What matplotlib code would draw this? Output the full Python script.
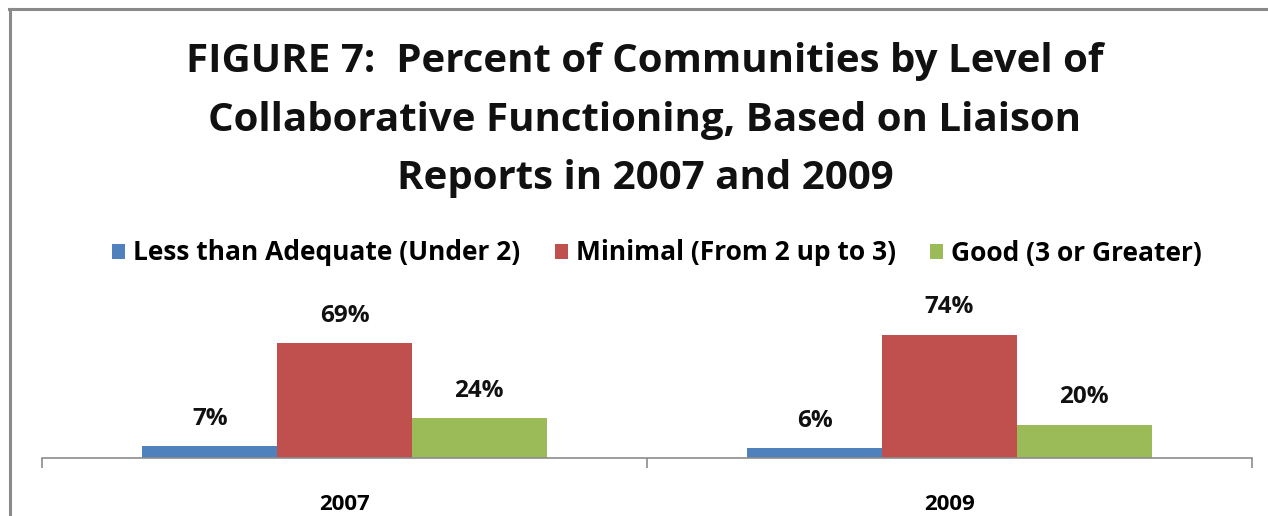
import matplotlib
matplotlib.use("Agg")
import matplotlib.pyplot as plt
from matplotlib.patches import Patch
from matplotlib.lines import Line2D
import numpy as np

years = ["2007", "2009"]
series_names = ["Less than Adequate (Under 2)", "Minimal (From 2 up to 3)", "Good (3 or Greater)"]
less_than_adequate = [7, 6]
minimal = [69, 74]
good = [24, 20]
colors = ["#4F81BD", "#C0504D", "#9BBB59"]

W, H = 1268, 516
fig = plt.figure(figsize=(W / 100, H / 100), dpi=100)
plt.rcParams['font.family'] = ['Open Sans', 'DejaVu Sans']

# outer frame (chart border)
fig.add_artist(Line2D([10 / W, 10 / W], [0, 1 - 9 / H], transform=fig.transFigure, color="#8a8a8a", lw=2.2))
fig.add_artist(Line2D([9 / W, 1], [1 - 9 / H, 1 - 9 / H], transform=fig.transFigure, color="#8a8a8a", lw=2.2))

ax = fig.add_axes([42 / W, 58 / H, 1210 / W, 133.3 / H])
ax.set_xlim(-0.5, 1.5)
ax.set_ylim(0, 80)

x = np.arange(len(years))
bw = 0.2227
for i, (vals, col) in enumerate(zip([less_than_adequate, minimal, good], colors)):
    bars = ax.bar(x + (i - 1) * bw, vals, width=bw, color=col, edgecolor='none', label=series_names[i])
    for b, v in zip(bars, vals):
        ax.annotate(f"{v}%", (b.get_x() + b.get_width() / 2, b.get_height()),
                    xytext=(0, 11), textcoords="offset points", ha="center", va="bottom",
                    fontsize=17.5, fontweight="bold", color="#111111")

for s in ["top", "right", "left"]:
    ax.spines[s].set_visible(False)
ax.spines["bottom"].set_color("#8c8c8c")
ax.spines["bottom"].set_linewidth(1.2)
ax.set_yticks([])
ax.set_xticks([-0.5, 0.5, 1.5])
ax.set_xticklabels([])
ax.tick_params(axis="x", which="major", length=7.5, color="#8c8c8c", width=1.2, direction="out")
ax.set_xticks(x, minor=True)
ax.set_xticklabels(years, minor=True, fontsize=16, fontweight="bold")
ax.tick_params(axis="x", which="minor", length=0, pad=26)

fig.text(645 / W, 1 - 120 / H,
         "FIGURE 7:  Percent of Communities by Level of\nCollaborative Functioning, Based on Liaison\nReports in 2007 and 2009",
         ha="center", va="center", fontsize=29, fontweight="bold", linespacing=1.66, color="#111111")

handles = [Patch(facecolor=c, edgecolor='none') for c in colors]
fig.legend(handles, series_names, loc="center", bbox_to_anchor=(657 / W, 1 - 253 / H), ncol=3,
           frameon=False, handlelength=0.5, handleheight=0.5, handletextpad=0.3,
           columnspacing=1.3, prop={'weight': 'bold', 'size': 19})

fig.savefig("out.png", dpi=100)
